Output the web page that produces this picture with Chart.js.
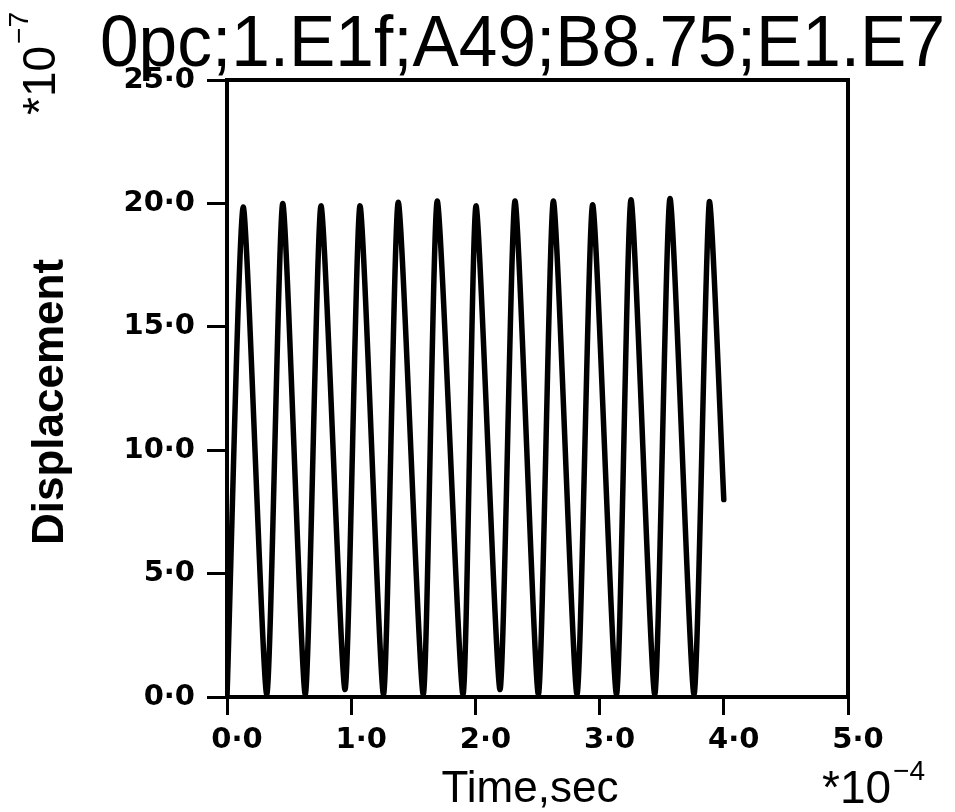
<!DOCTYPE html>
<html>
<head>
<meta charset="utf-8">
<script src="https://cdn.jsdelivr.net/npm/chart.js@4.4.0/dist/chart.umd.min.js"></script>
<style>
  html, body { margin: 0; padding: 0; background: #fff; }
  #wrap { width: 955px; height: 812px; }
</style>
</head>
<body>
<div id="wrap"><canvas id="dispChart" width="955" height="812"></canvas></div>
<script>
// time in units of 1e-4 s, displacement in units of 1e-7
const times = [0, 0.131, 0.32, 0.449, 0.63, 0.757, 0.95, 1.071, 1.26, 1.379, 1.58, 1.693, 1.90,
               2.005, 2.198, 2.319, 2.507, 2.628, 2.818, 2.944, 3.136, 3.253, 3.444, 3.567, 3.76, 3.883, 4.0];
const displacement = [0, 19.85, 0.1, 20.0, 0.1, 19.9, 0.3, 19.9, 0.1, 20.05, 0.1, 20.1, 0.1,
                      19.9, 0.3, 20.1, 0.1, 20.1, 0.1, 19.95, 0.1, 20.15, 0.1, 20.2, 0.1, 20.05, 8.0];
const xTicks = [0, 1, 2, 3, 4, 5];
const yTicks = [0, 5, 10, 15, 20, 25];
const titleText = '0pc;1.E1f;A49;B8.75;E1.E7';
const xTitle = 'Time,sec';
const yTitle = 'Displacement';

const points = times.map((t, i) => ({ x: t, y: displacement[i] }));
const fmt = v => v.toFixed(1).replace('.', '\u00B7');
const tickFont = { family: '"DejaVu Sans", sans-serif', size: 29, weight: 'bold' };

const decor = {
    id: 'decor',
    afterDraw(chart) {
        const ctx = chart.ctx;
        const a = chart.chartArea;
        ctx.save();
        ctx.strokeStyle = '#000';
        ctx.lineWidth = 4;
        ctx.strokeRect(a.left, a.top, a.right - a.left, a.bottom - a.top);

        ctx.fillStyle = '#000';
        ctx.textBaseline = 'alphabetic';

        // main title
        ctx.textAlign = 'left';
        ctx.font = '72px "Liberation Sans", sans-serif';
        ctx.fillText(titleText, 100, 66, 845);

        // x axis title
        ctx.textAlign = 'center';
        ctx.font = '44px "Liberation Sans", sans-serif';
        ctx.fillText(xTitle, 530, 802);

        // x multiplier
        ctx.textAlign = 'left';
        ctx.font = '46px "Liberation Sans", sans-serif';
        ctx.fillText('*10', 822, 803);
        const w = ctx.measureText('*10').width;
        ctx.font = '28px "Liberation Sans", sans-serif';
        ctx.fillText('\u22124', 822 + w + 2, 780);

        // y axis title (rotated)
        ctx.save();
        ctx.translate(63, 402);
        ctx.rotate(-Math.PI / 2);
        ctx.textAlign = 'center';
        ctx.font = 'bold 44px "Liberation Sans", sans-serif';
        ctx.fillText(yTitle, 0, 0);
        ctx.restore();

        // y multiplier (rotated)
        ctx.translate(55, 115);
        ctx.rotate(-Math.PI / 2);
        ctx.textAlign = 'left';
        ctx.font = '46px "Liberation Sans", sans-serif';
        ctx.fillText('*10', 0, 0);
        const w2 = ctx.measureText('*10').width;
        ctx.font = '28px "Liberation Sans", sans-serif';
        ctx.fillText('\u22127', w2 + 2, -27);
        ctx.restore();
    }
};

new Chart(document.getElementById('dispChart'), {
    type: 'line',
    data: {
        datasets: [{
            data: points,
            borderColor: '#000',
            borderWidth: 5.5,
            borderJoinStyle: 'round',
            borderCapStyle: 'round',
            pointRadius: 0,
            fill: false,
            tension: 0.2
        }]
    },
    options: {
        responsive: false,
        animation: false,
        layout: { padding: { left: 20, right: 107, top: 80, bottom: 0 } },
        plugins: { legend: { display: false }, tooltip: { enabled: false } },
        scales: {
            x: {
                type: 'linear',
                min: 0, max: 5,
                afterBuildTicks: s => { s.ticks = xTicks.map(v => ({ value: v })); },
                afterFit: s => { s.height = 115; },
                border: { color: '#000', width: 4 },
                grid: { drawOnChartArea: false, tickLength: 18, tickColor: '#000', tickWidth: 3 },
                ticks: {
                    color: '#000',
                    font: tickFont,
                    padding: 8,
                    labelOffset: 10,
                    maxRotation: 0,
                    callback: v => fmt(v)
                }
            },
            y: {
                min: 0, max: 25,
                afterBuildTicks: s => { s.ticks = yTicks.map(v => ({ value: v })); },
                afterFit: s => { s.width = 207; },
                border: { color: '#000', width: 4 },
                grid: { drawOnChartArea: false, tickLength: 20, tickColor: '#000', tickWidth: 3 },
                ticks: {
                    color: '#000',
                    font: tickFont,
                    padding: 12,
                    callback: v => fmt(v)
                }
            }
        }
    },
    plugins: [decor]
});
</script>
</body>
</html>
